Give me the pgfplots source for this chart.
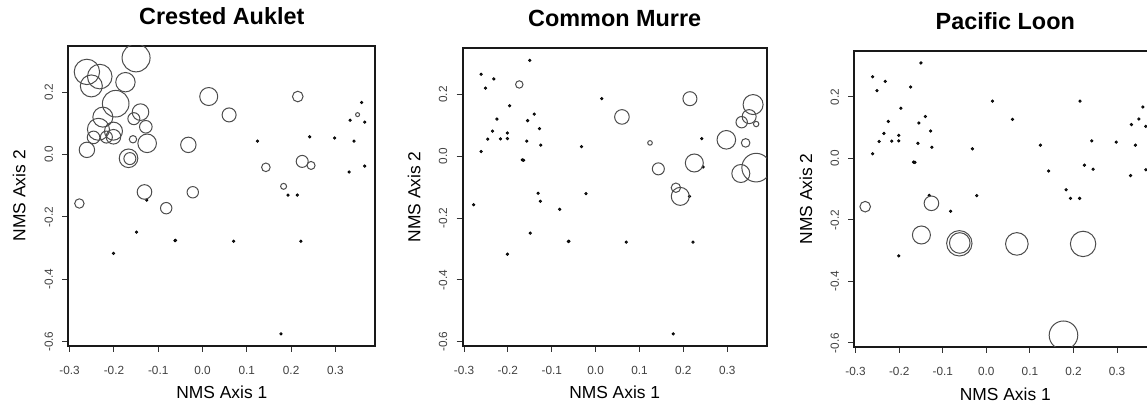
\documentclass[border=0pt]{standalone}
\usepackage{fontspec}
\setmainfont{Liberation Sans}
\setsansfont{Liberation Sans}
\usepackage{pgfplots}
\usepackage{pgfplotstable}
\pgfplotsset{compat=1.18}

% site scores on NMS axes; ca/cm/pl = bubble radius (px) per species, 0 = dot
\pgfplotstableread{
x y ca cm pl
-0.261 0.265 12.7 0 0
-0.232 0.250 12.3 0 0
-0.251 0.220 11.0 0 0
-0.150 0.310 14.0 0 0
-0.174 0.232 9.7 3.7 0
-0.196 0.163 13.3 0 0
-0.225 0.120 10.0 0 0
-0.235 0.081 11.0 0 0
-0.246 0.055 6.3 0 0
-0.217 0.056 6.0 0 0
-0.201 0.075 9.0 0 0
-0.201 0.057 7.3 0 0
-0.261 0.015 7.7 0 0
-0.140 0.136 8.3 0 0
-0.155 0.115 6.0 0 0
-0.128 0.089 6.3 0 0
-0.157 0.049 3.7 0 0
-0.125 0.036 9.3 0 0
-0.167 -0.012 9.3 0 0
-0.164 -0.013 6.0 0 0
-0.032 0.031 7.7 0 0
0.014 0.186 9.0 0 0
0.060 0.127 7.0 7.3 0
-0.022 -0.121 5.7 0 0
-0.082 -0.172 5.7 0 0
-0.131 -0.120 7.3 0 0
-0.126 -0.146 0 0 7.3
-0.278 -0.157 4.7 0 5.3
-0.149 -0.249 0 0 9.0
-0.062 -0.276 0 0 12.7
-0.061 -0.275 0 0 10.3
0.070 -0.278 0 0 11.3
0.222 -0.278 0 0 12.7
0.177 -0.575 0 0 14.3
-0.201 -0.317 0 0 0
0.124 0.043 0 2.3 0
0.143 -0.041 4.3 6.0 0
0.215 0.186 5.3 7.0 0
0.242 0.057 0 0 0
0.225 -0.022 6.0 9.0 0
0.245 -0.035 4.0 0 0
0.183 -0.102 3.0 4.7 0
0.193 -0.130 0 9.0 0
0.214 -0.130 0 0 0
0.298 0.053 0 9.3 0
0.333 0.110 0 5.7 0
0.350 0.128 2.0 7.0 0
0.359 0.167 0 10.0 0
0.366 0.104 0 2.7 0
0.342 0.043 0 4.3 0
0.331 -0.056 0 9.0 0
0.366 -0.037 0 14.3 0
}\sites

\pgfplotsset{
  nms/.style={
    scale only axis, anchor=north west,
    xmin=-0.303, xmax=0.390, ymin=-0.613, ymax=0.349,
    axis line style={line width=1pt, black!90},
    tick align=outside, xtick pos=bottom, ytick pos=left,
    major tick length=3pt,
    every tick/.style={line width=0.5pt, black!80},
    xtick={-0.3,-0.2,-0.1,0,0.1,0.2,0.3},
    xticklabels={-0.3,-0.2,-0.1,0.0,0.1,0.2,0.3},
    ytick={-0.6,-0.4,-0.2,0,0.2},
    yticklabels={-0.6,-0.4,-0.2,0.0,0.2},
    tick label style={font=\fontsize{5.9}{6}\selectfont, text=black!75, inner sep=0pt},
    xticklabel style={anchor=north, yshift=-7pt},
    yticklabel style={xshift=-4.5pt, rotate=90, anchor=south},
    xlabel={NMS Axis 1}, ylabel={NMS Axis 2},
    label style={font=\fontsize{8.7}{10}\selectfont},
    xlabel style={at={(axis description cs:0.5,0)}, anchor=center, yshift=-23.5pt},
    ylabel style={at={(axis description cs:-0.16,0.5)}, anchor=center},
    title style={font=\bfseries\fontsize{11.7}{14}\selectfont, at={(axis description cs:0.5,1)}, anchor=center, yshift=9pt},
    clip marker paths=true,
  },
  bubbles/.style={scatter, only marks, mark=o, line width=0.5pt,
    scatter/use mapped color={draw=black!70},
    visualization depends on={0.5*\thisrow{#1} \as \rad},
    scatter/@pre marker code/.append style={/tikz/mark size=\rad},
    restrict expr to domain={\thisrow{#1}}{0.5:100}},
  dots/.style={only marks, mark=*, mark size=0.6pt,
    mark options={draw=none, fill=black!70},
    restrict expr to domain={\thisrow{#1}}{-1:0.4}},
}

\begin{document}
\begin{tikzpicture}
\path[use as bounding box] (0,0) rectangle (573.5pt,-203pt);
\clip (0,0) rectangle (573.5pt,-203pt);

\begin{axis}[nms, at={(34.15pt,-22.85pt)}, width=153.5pt, height=150pt, title={Crested Auklet}]
\addplot[dots=ca] table[x=x, y=y] {\sites};
\addplot[bubbles=ca] table[x=x, y=y] {\sites};
\end{axis}

\begin{axis}[nms, at={(231.35pt,-24.15pt)}, width=152pt, height=148.7pt, title={Common Murre}]
\addplot[dots=cm] table[x=x, y=y] {\sites};
\addplot[bubbles=cm] table[x=x, y=y] {\sites};
\end{axis}

\begin{axis}[nms, at={(427.15pt,-25.5pt)}, width=151pt, height=148pt, title={Pacific Loon}]
\addplot[dots=pl] table[x=x, y=y] {\sites};
\addplot[bubbles=pl] table[x=x, y=y] {\sites};
\end{axis}
\end{tikzpicture}
\end{document}
